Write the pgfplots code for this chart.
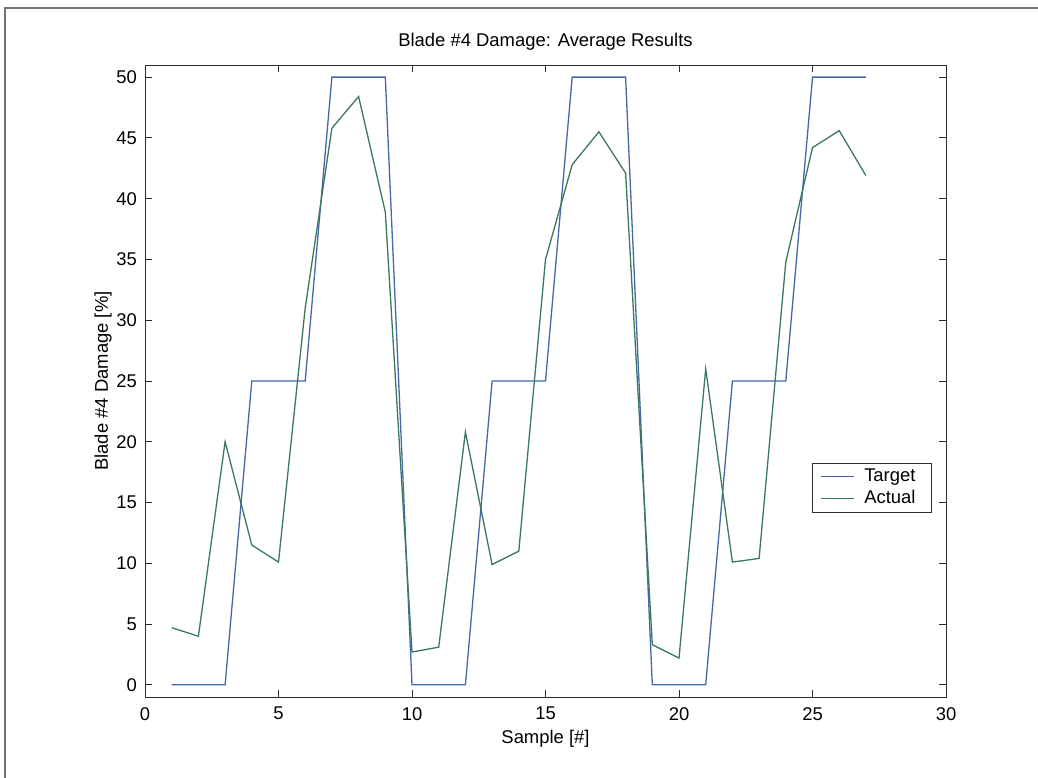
\documentclass[border=0pt]{standalone}
\usepackage{fontspec}
\setmainfont{Liberation Sans}
\usepackage{pgfplots}
\usepackage{pgfplotstable}
\pgfplotsset{compat=1.18}
\definecolor{tgt}{RGB}{70,104,170}
\definecolor{act}{RGB}{58,122,92}
\definecolor{axc}{RGB}{45,45,45}

\pgfplotstableread{
x y
1 0
2 0
3 0
4 25
5 25
6 25
7 50
8 50
9 50
10 0
11 0
12 0
13 25
14 25
15 25
16 50
17 50
18 50
19 0
20 0
21 0
22 25
23 25
24 25
25 50
26 50
27 50
}\target

\pgfplotstableread{
x y
1 4.7
2 4.0
3 20.0
4 11.5
5 10.1
6 31.0
7 45.8
8 48.4
9 38.9
10 2.7
11 3.1
12 20.8
13 9.9
14 11.0
15 35.0
16 42.8
17 45.5
18 42.1
19 3.3
20 2.2
21 26.0
22 10.1
23 10.4
24 34.8
25 44.2
26 45.6
27 41.9
}\actual

\begin{document}
\begin{tikzpicture}[x=1bp,y=1bp]
\useasboundingbox (0,0) rectangle (1038,778);
\fill[white] (0,0) rectangle (1038,778);
\draw[line width=2bp, black!55] (5,0) -- (5,770) -- (1038,770);
\begin{axis}[
  at={(145bp,81bp)}, anchor=south west,
  scale only axis, width=801bp, height=632bp,
  xmin=0, xmax=30, ymin=-1, ymax=51,
  xtick={0,5,...,30}, ytick={0,5,...,50},
  tick align=inside, major tick length=7bp,
  axis line style={axc, line width=0.9bp},
  every tick/.style={axc, line width=0.9bp},
  font=\fontsize{18.5}{22}\selectfont,
  /pgf/number format/assume math mode=true,
  xticklabel style={inner sep=0pt, yshift=-10bp},
  yticklabel style={inner sep=0pt, xshift=-8bp},
  title={Blade \#4 Damage: Average Results},
  title style={at={(axis description cs:0.5,1.0127)}, anchor=south, inner sep=0pt},
  xlabel={Sample [\#]},
  ylabel={Blade \#4 Damage [\%]},
  every axis x label/.style={at={(axis description cs:0.5,-0.0522)}, anchor=north, inner sep=0pt},
  every axis y label/.style={at={(axis description cs:-0.0412,0.5)}, rotate=90, anchor=south, inner sep=0pt},
  legend cell align=left,
  legend image code/.code={\draw[#1] (0bp,0bp) -- (33bp,0bp);},
  legend style={at={(axis description cs:0.8327,0.3703)}, anchor=north west,
    draw=axc, line width=0.9bp, inner xsep=7.6bp, inner ysep=2.5bp,
    nodes={text height=13bp, text depth=4bp, inner sep=2.4bp},
    /tikz/every odd column/.append style={column sep=7.5bp},
    font=\fontsize{18.5}{22}\selectfont},
]
\addplot[tgt, line width=1.3bp] table[x=x,y=y] {\target};
\addlegendentry{Target\hspace*{6bp}}
\addplot[act, line width=1.3bp] table[x=x,y=y] {\actual};
\addlegendentry{Actual}
\end{axis}
\end{tikzpicture}
\end{document}
